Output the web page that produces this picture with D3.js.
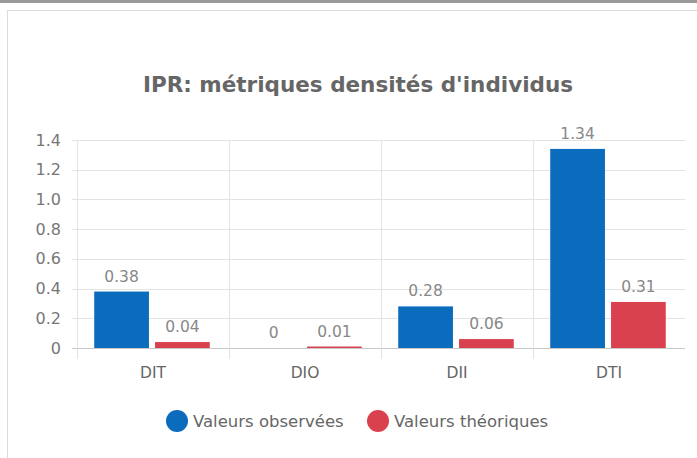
<!DOCTYPE html>
<html>
<head>
<meta charset="utf-8">
<script src="https://cdn.jsdelivr.net/npm/d3@7"></script>
<style>
  body { margin: 0; background: #fff; }
  svg { display: block; font-family: "DejaVu Sans", sans-serif; }
</style>
</head>
<body>
<div id="chart"></div>
<script>
// IPR density metrics, observed vs theoretical
var categories = ["DIT", "DIO", "DII", "DTI"];
var seriesNames = ["Valeurs observées", "Valeurs théoriques"];
var observed = [0.38, 0, 0.28, 1.34];
var theoretical = [0.04, 0.01, 0.06, 0.31];
var yTicks = [0, 0.2, 0.4, 0.6, 0.8, 1.0, 1.2, 1.4];
var colours = ["#0b6cbd", "#d9414f"];

var width = 697, height = 458;
var margin = { top: 140, right: 12, bottom: 110, left: 77 };

var svg = d3.select("#chart").append("svg")
    .attr("width", width)
    .attr("height", height);

// page frame
svg.append("line")
    .attr("x1", 0).attr("x2", width).attr("y1", 1.5).attr("y2", 1.5)
    .attr("stroke", "#9a9a9a").attr("stroke-width", 3);
svg.append("rect")
    .attr("x", 7.5).attr("y", 10.5)
    .attr("width", width + 10).attr("height", height + 10)
    .attr("fill", "#fff").attr("stroke", "#dcdcdc");

svg.append("text")
    .attr("x", 358).attr("y", 92)
    .attr("text-anchor", "middle")
    .attr("font-size", 21.5).attr("font-weight", "bold")
    .attr("fill", "#666")
    .text("IPR: métriques densités d'individus");

var x0 = d3.scaleBand()
    .domain(categories)
    .range([margin.left, width - margin.right]);

var x1 = d3.scaleBand()
    .domain(seriesNames)
    .range([0, x0.bandwidth()])
    .paddingInner(0.1)
    .paddingOuter(0.3);

var y = d3.scaleLinear()
    .domain([0, 1.4])
    .range([348, 140]);

// horizontal grid
svg.append("g").selectAll("line").data(yTicks).join("line")
    .attr("x1", margin.left - 5).attr("x2", width - margin.right)
    .attr("y1", function (d) { return Math.round(y(d)) + 0.5; })
    .attr("y2", function (d) { return Math.round(y(d)) + 0.5; })
    .attr("stroke", function (d) { return d === 0 ? "#c8c8c8" : "#e3e3e3"; });

// vertical category separators
svg.append("g").selectAll("line").data(categories).join("line")
    .attr("x1", function (d) { return Math.round(x0(d)) + 0.5; })
    .attr("x2", function (d) { return Math.round(x0(d)) + 0.5; })
    .attr("y1", y(1.4)).attr("y2", 359)
    .attr("stroke", "#e3e3e3");

// y tick labels
svg.append("g").selectAll("text").data(yTicks).join("text")
    .attr("x", 61)
    .attr("y", function (d) { return y(d) + 5.5; })
    .attr("text-anchor", "end")
    .attr("font-size", 16).attr("fill", "#777")
    .text(function (d) { return d === 0 ? "0" : d3.format(".1f")(d); });

// category labels
svg.append("g").selectAll("text").data(categories).join("text")
    .attr("x", function (d) { return x0(d) + x0.bandwidth() / 2; })
    .attr("y", 378)
    .attr("text-anchor", "middle")
    .attr("font-size", 15.5).attr("fill", "#666")
    .text(function (d) { return d; });

var rows = categories.map(function (c, i) {
    return { cat: c, values: [observed[i], theoretical[i]] };
});

var groups = svg.append("g").selectAll("g").data(rows).join("g")
    .attr("transform", function (d) { return "translate(" + x0(d.cat) + ",0)"; });

groups.selectAll("rect")
    .data(function (d) { return d.values.map(function (v, j) { return { s: seriesNames[j], v: v, j: j }; }); })
    .join("rect")
    .attr("x", function (d) { return x1(d.s) - 1; })
    .attr("width", x1.bandwidth())
    .attr("y", function (d) { return Math.min(y(d.v), y(0) - 1.5); })
    .attr("height", function (d) { return Math.max(y(0) - y(d.v), d.v > 0 ? 1.5 : 0); })
    .attr("fill", function (d) { return colours[d.j]; });

groups.selectAll("text")
    .data(function (d) { return d.values.map(function (v, j) { return { s: seriesNames[j], v: v, j: j }; }); })
    .join("text")
    .attr("x", function (d) { return x1(d.s) + x1.bandwidth() / 2 - 1; })
    .attr("y", function (d) { return y(d.v) - 10; })
    .attr("text-anchor", "middle")
    .attr("font-size", 15.5).attr("fill", "#888")
    .text(function (d) { return d.v === 0 ? "0" : d3.format(".2f")(d.v); });

// legend
var legendX = [177, 378];
var legend = svg.append("g").selectAll("g").data(seriesNames).join("g")
    .attr("transform", function (d, i) { return "translate(" + legendX[i] + ",421)"; });
legend.append("circle")
    .attr("r", 11)
    .attr("fill", function (d, i) { return colours[i]; });
legend.append("text")
    .attr("x", 16).attr("y", 5.5)
    .attr("font-size", 16.5).attr("fill", "#666")
    .text(function (d) { return d; });
</script>
</body>
</html>
